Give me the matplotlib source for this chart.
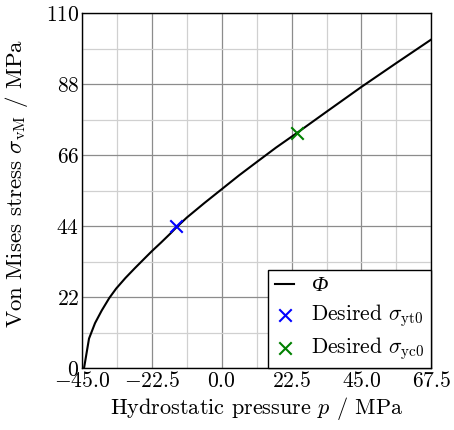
import matplotlib
matplotlib.use("Agg")
import matplotlib.pyplot as plt
from matplotlib.ticker import FixedLocator, FixedFormatter

plt.rcParams["font.family"] = "serif"
plt.rcParams["font.serif"] = ["cmr10"]
plt.rcParams["mathtext.fontset"] = "cm"
plt.rcParams["axes.unicode_minus"] = False
plt.rcParams["axes.formatter.use_mathtext"] = True

# Yield surface Phi in the p-q plane
pressure = [-44.35, -42.74, -40.8, -38.65, -36.2, -34.0, -31.0, -28.0, -25.0,
            -22.5, -19.5, -16.6, -14.67, -11.25, -5.6, 0.0, 5.6, 11.25,
            17.5, 24.33, 33.75, 45.0, 56.25, 67.5]
vm_stress = [0.0, 9.2, 14.0, 17.9, 21.8, 24.7, 28.0, 31.0, 33.9,
             36.3, 39.0, 41.7, 43.6, 46.7, 51.2, 55.5, 59.8, 63.9,
             68.4, 73.0, 79.5, 87.2, 94.6, 101.9]

# Target yield points (uniaxial tension / compression)
yt0_p, yt0_q = [-14.67], [44.0]
yc0_p, yc0_q = [24.33], [73.0]

x_ticks = [-45.0, -22.5, 0.0, 22.5, 45.0, 67.5]
x_tick_labels = ["$-45.0$", "$-22.5$", "$0.0$", "$22.5$", "$45.0$", "$67.5$"]
y_ticks = [0, 22, 44, 66, 88, 110]
y_tick_labels = ["$0$", "$22$", "$44$", "$66$", "$88$", "$110$"]

fig = plt.figure(figsize=(4.54, 4.30), dpi=100)
ax = fig.add_axes([0.1806, 0.1435, 0.95 - 0.1806, 0.969 - 0.1435])

ax.plot(pressure, vm_stress, color="black", lw=1.5, label="Φ", zorder=3)
ax.scatter(yt0_p, yt0_q, marker="x", s=80, color="#0000ff", linewidths=1.5,
           label=r"Desired $\sigma_{\mathrm{yt0}}$", zorder=4)
ax.scatter(yc0_p, yc0_q, marker="x", s=80, color="#008000", linewidths=1.5,
           label=r"Desired $\sigma_{\mathrm{yc0}}$", zorder=4)

ax.set_xlim(-45, 67.5)
ax.set_ylim(0, 110)

ax.xaxis.set_major_locator(FixedLocator(x_ticks))
ax.xaxis.set_major_formatter(FixedFormatter(x_tick_labels))
ax.yaxis.set_major_locator(FixedLocator(y_ticks))
ax.yaxis.set_major_formatter(FixedFormatter(y_tick_labels))
x_minor = [(a + b) / 2 for a, b in zip(x_ticks[:-1], x_ticks[1:])]
y_minor = [(a + b) / 2 for a, b in zip(y_ticks[:-1], y_ticks[1:])]
ax.xaxis.set_minor_locator(FixedLocator(x_minor))
ax.yaxis.set_minor_locator(FixedLocator(y_minor))

ax.grid(which="major", color="#8c8c8c", lw=0.9)
ax.grid(which="minor", color="#d0d0d0", lw=0.9)
ax.set_axisbelow(True)
ax.tick_params(which="both", length=0, labelsize=15.5, pad=2)
for s in ax.spines.values():
    s.set_linewidth(1.0)
    s.set_zorder(5)

ax.set_xlabel(r"Hydrostatic pressure $p$ / MPa", fontsize=16, labelpad=3)
ax.set_ylabel(r"Von Mises stress $\sigma_{\mathrm{vM}}$ / MPa", fontsize=16.5)
ax.yaxis.set_label_coords(-0.15, 0.52)

leg = ax.legend(loc="lower right", borderaxespad=0, fancybox=False, edgecolor="black",
                framealpha=1, fontsize=15.5, handlelength=0.9, handletextpad=0.8,
                labelspacing=0.28, borderpad=0.3)
leg.get_frame().set_linewidth(1.0)
phi_text = leg.get_texts()[0]
phi_text.set_fontfamily("Liberation Serif")
phi_text.set_fontstyle("italic")

fig.savefig("out.png", dpi=100)
